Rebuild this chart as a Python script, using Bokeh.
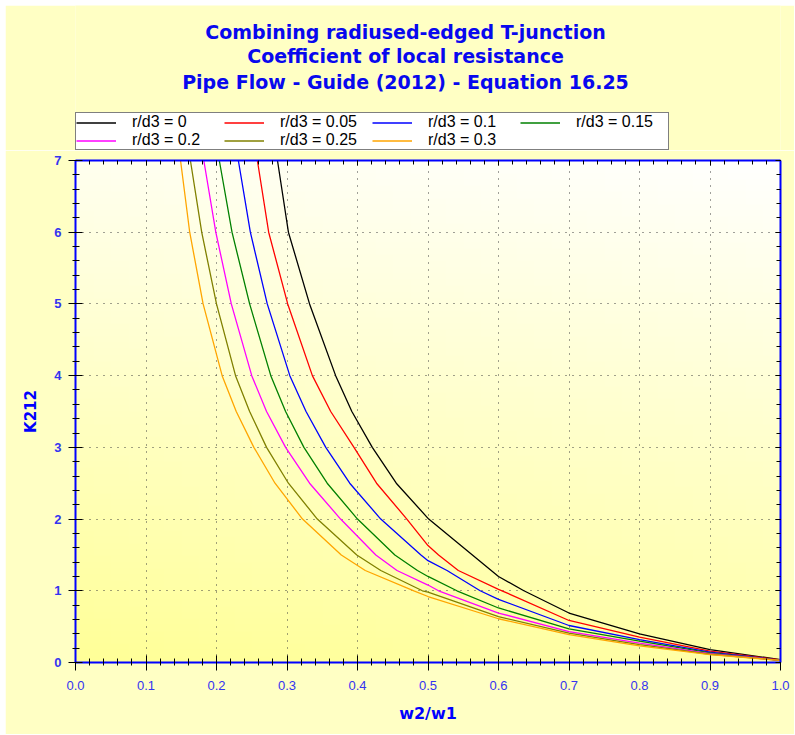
import numpy as np
from bokeh.plotting import figure
from bokeh.layouts import column
from bokeh.models import (Range1d, LinearAxis, SingleIntervalTicker, NumeralTickFormatter,
                          CustomJSTickFormatter, Legend, LegendItem, Label)
from bokeh.embed import file_html
from bokeh.resources import INLINE

# ---------------- data ----------------
series_labels = ["r/d3 = 0", "r/d3 = 0.05", "r/d3 = 0.1", "r/d3 = 0.15",
                 "r/d3 = 0.2", "r/d3 = 0.25", "r/d3 = 0.3"]
series_colors = ["#000000", "#ff0000", "#0000ff", "#008000",
                 "#ff00ff", "#808000", "#ffa500"]

w_r000 = [0.2865, 0.302, 0.332, 0.369, 0.392, 0.421, 0.455, 0.501, 0.60, 0.636, 0.70, 0.80, 0.90, 1.00]
k_r000 = [7.0, 6.0, 5.0, 4.0, 3.5, 3.0, 2.5, 2.0, 1.20, 1.0, 0.69, 0.40, 0.18, 0.04]

w_r005 = [0.258, 0.274, 0.301, 0.336, 0.362, 0.395, 0.427, 0.470, 0.50, 0.515, 0.543, 0.60, 0.605,
          0.70, 0.80, 0.90, 1.00]
k_r005 = [7.0, 6.0, 5.0, 4.0, 3.5, 3.0, 2.5, 2.0, 1.63, 1.50, 1.283, 1.02, 1.0,
          0.586, 0.353, 0.16, 0.035]

w_r010 = [0.231, 0.248, 0.272, 0.304, 0.327, 0.355, 0.389, 0.433, 0.490, 0.50, 0.527, 0.574, 0.60,
          0.70, 0.80, 0.90, 1.00]
k_r010 = [7.0, 6.0, 5.0, 4.0, 3.5, 3.0, 2.5, 2.0, 1.50, 1.42, 1.283, 1.0, 0.88,
          0.516, 0.32, 0.145, 0.03]

w_r015 = [0.204, 0.222, 0.247, 0.277, 0.298, 0.324, 0.357, 0.400, 0.453, 0.485, 0.50, 0.541, 0.60,
          0.70, 0.80, 0.90, 1.00]
k_r015 = [7.0, 6.0, 5.0, 4.0, 3.5, 3.0, 2.5, 2.0, 1.50, 1.283, 1.20, 1.0, 0.76,
          0.47, 0.297, 0.135, 0.03]

w_r020 = [0.182, 0.199, 0.221, 0.250, 0.271, 0.298, 0.332, 0.376, 0.426, 0.456, 0.50, 0.515, 0.60,
          0.70, 0.80, 0.90, 1.00]
k_r020 = [7.0, 6.0, 5.0, 4.0, 3.5, 3.0, 2.5, 2.0, 1.50, 1.283, 1.08, 1.0, 0.69,
          0.432, 0.27, 0.125, 0.03]

w_r025 = [0.163, 0.179, 0.200, 0.227, 0.247, 0.271, 0.302, 0.343, 0.399, 0.433, 0.492, 0.50, 0.60,
          0.70, 0.80, 0.90, 1.00]
k_r025 = [7.0, 6.0, 5.0, 4.0, 3.5, 3.0, 2.5, 2.0, 1.50, 1.283, 1.0, 0.98, 0.64,
          0.41, 0.25, 0.115, 0.03]

w_r030 = [0.149, 0.162, 0.181, 0.208, 0.228, 0.253, 0.283, 0.322, 0.377, 0.411, 0.480, 0.50, 0.60,
          0.70, 0.80, 0.90, 1.00]
k_r030 = [7.0, 6.0, 5.0, 4.0, 3.5, 3.0, 2.5, 2.0, 1.50, 1.283, 1.0, 0.92, 0.61,
          0.39, 0.233, 0.11, 0.03]

series_w = [w_r000, w_r005, w_r010, w_r015, w_r020, w_r025, w_r030]
series_k = [k_r000, k_r005, k_r010, k_r015, k_r020, k_r025, k_r030]

title_lines = ["Combining radiused-edged T-junction",
               "Coefficient of local resistance",
               "Pipe Flow - Guide (2012) - Equation 16.25"]
x_title = "w2/w1"
y_title = "K212"
x_min, x_max = 0.0, 1.0
y_min, y_max = 0.0, 7.0

# ---------------- styles / layout sizes ----------------
BLUE = "#0000ff"
LABEL_BLUE = "#3434f0"
PANEL = "#ffffc4"
FIG_W = 789
HEAD_H = 145
MAIN_H = 584
BORDER_L, BORDER_R = 70, 14
FRAME_W = FIG_W - BORDER_L - BORDER_R

# ---------------- main figure ----------------
p = figure(width=FIG_W, height=MAIN_H, output_backend="svg", toolbar_location=None,
           x_range=Range1d(x_min, x_max), y_range=Range1d(y_min, y_max),
           min_border_left=BORDER_L, min_border_right=BORDER_R,
           min_border_top=10, min_border_bottom=72)
p.border_fill_color = PANEL
p.background_fill_color = "#ffffe8"
p.outline_line_color = None

# gradient background of the plotting area
ny, nx = 80, 40
img = np.empty((ny, nx), dtype=np.uint32)
view = img.view(dtype=np.uint8).reshape((ny, nx, 4))
for j in range(ny):
    fy = j / (ny - 1)
    for i in range(nx):
        fx = i / (nx - 1)
        t = 0.85 * fy + 0.15 * fx
        view[j, i, 0] = 255
        view[j, i, 1] = 255
        view[j, i, 2] = int(152 + 102 * t)
        view[j, i, 3] = 255
p.image_rgba(image=[img], x=x_min, y=y_min, dw=x_max - x_min, dh=y_max - y_min, level="image")

# curves
for col, ws, ks in zip(series_colors, series_w, series_k):
    p.line(ws, ks, line_color=col, line_width=1.3)

# axes
xt = SingleIntervalTicker(interval=0.1, num_minor_ticks=5)
yt = SingleIntervalTicker(interval=1, num_minor_ticks=5)

xa = p.xaxis[0]
xa.ticker = xt
xa.formatter = NumeralTickFormatter(format="0.0")
ya = p.yaxis[0]
ya.ticker = yt
ya.formatter = NumeralTickFormatter(format="0")

for ax in (xa, ya):
    ax.axis_line_color = BLUE
    ax.axis_line_width = 2
    ax.major_tick_line_color = "black"
    ax.minor_tick_line_color = "black"
    ax.major_tick_in = 7
    ax.major_tick_out = 7
    ax.minor_tick_in = 4
    ax.minor_tick_out = 3
    ax.major_label_text_color = LABEL_BLUE
    ax.major_label_text_font = "Liberation Sans"
    ax.major_label_text_font_size = "13px"
    ax.axis_label_text_color = BLUE
    ax.axis_label_text_font = "DejaVu Sans"
    ax.axis_label_text_font_style = "bold"

xa.major_tick_out = 8
xa.major_label_standoff = 10
xa.axis_label = x_title
xa.axis_label_text_font_size = "16px"
xa.axis_label_standoff = 11

ya.major_label_standoff = 7
ya.major_label_text_font_style = "bold"
ya.axis_label = y_title
ya.axis_label_text_font_size = "15px"
ya.axis_label_standoff = 11

empty_fmt = CustomJSTickFormatter(code="return ''")
for side in ("above", "right"):
    ax = LinearAxis(ticker=xt if side == "above" else yt, formatter=empty_fmt)
    ax.axis_line_color = BLUE
    ax.axis_line_width = 2
    ax.major_tick_line_color = "black"
    ax.minor_tick_line_color = "black"
    ax.major_tick_in = 5
    ax.major_tick_out = 0
    ax.minor_tick_in = 4
    ax.minor_tick_out = 0
    ax.major_label_standoff = 0
    ax.major_label_text_font_size = "1px"
    p.add_layout(ax, side)

for g in (p.xgrid[0], p.ygrid[0]):
    g.grid_line_color = "#404040"
    g.grid_line_dash = "1 6"
    g.grid_line_width = 1

# ---------------- header figure: titles + legend ----------------
# its frame is aligned with the main frame; ranges are in header pixels
h = figure(width=FIG_W, height=HEAD_H, output_backend="svg", toolbar_location=None,
           x_range=Range1d(0, FRAME_W), y_range=Range1d(0, HEAD_H),
           x_axis_type=None, y_axis_type=None,
           min_border_left=BORDER_L, min_border_right=BORDER_R,
           min_border_top=0, min_border_bottom=0)
h.title.visible = False
h.border_fill_color = PANEL
h.background_fill_color = PANEL
h.outline_line_color = None
h.grid.visible = False

# hidden proxies of the curves, only used for the legend swatches
items = []
for lab, col, ws, ks in zip(series_labels, series_colors, series_w, series_k):
    r = h.line(ws, ks, line_color=col, line_width=1.3, visible=False)
    items.append(LegendItem(label=lab, renderers=[r]))

legend = Legend(items=items, location=(0, 0), orientation="horizontal", ncols=4,
                glyph_width=40, glyph_height=15, label_height=15, label_width=92,
                label_standoff=16, spacing=0, padding=0, margin=0,
                label_text_font="Liberation Sans", label_text_font_size="16px",
                label_text_color="black", label_text_baseline="middle",
                border_line_color="black", border_line_width=1,
                background_fill_color="white", background_fill_alpha=1.0,
                inactive_fill_alpha=0.0)
h.add_layout(legend, "center")

title_centers = [118.3, 95.0, 68.3]  # header pixels from its bottom
for line, yc in zip(title_lines, title_centers):
    h.add_layout(Label(x=330, y=yc, text=line, text_align="center",
                       text_baseline="middle", text_font="DejaVu Sans",
                       text_font_style="bold", text_font_size="19px",
                       text_color="#0808ee"))

layout = column(h, p, spacing=0)
layout.margin = (5, 0, 0, 5)

open("out.html", "w").write(file_html(layout, INLINE))
